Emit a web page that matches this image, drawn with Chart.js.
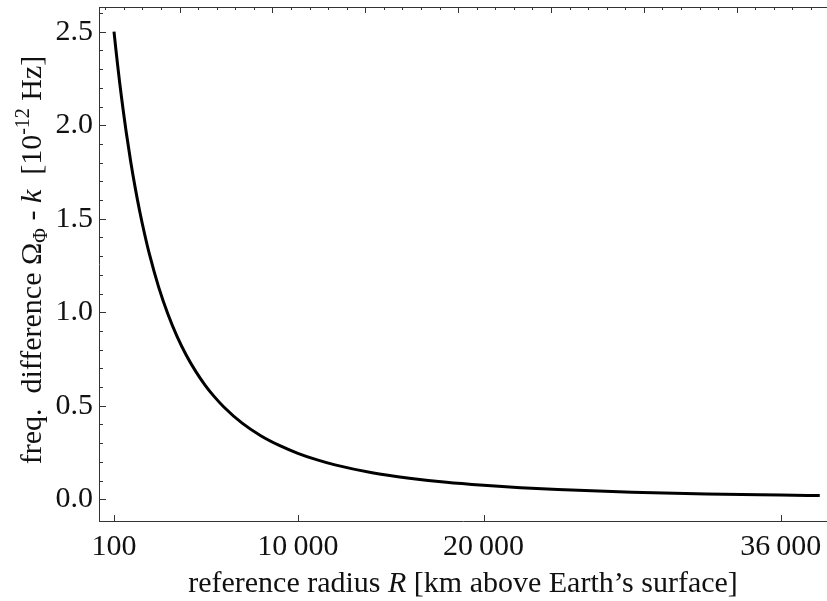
<!DOCTYPE html>
<html>
<head>
<meta charset="utf-8">
<script src="https://cdn.jsdelivr.net/npm/chart.js@4"></script>
<style>
  html, body { margin: 0; padding: 0; background: #fff; overflow: hidden; }
  #wrap { width: 827px; height: 601px; }
</style>
</head>
<body>
<div id="wrap"><canvas id="freqChart" width="827" height="601"></canvas></div>
<script>
// ===== DATA =====
// reference radius above Earth's surface (km)
const radiusKm = [100, 200, 300, 400, 500, 600, 750, 1000, 1250, 1500, 1750, 2000,
  2500, 3000, 3500, 4000, 4500, 5000, 5500, 6000, 7000, 8000, 9000, 10000,
  11000, 12000, 14000, 16000, 18000, 20000, 22000, 24000, 28000, 32000, 36000, 38100];
// frequency difference (10^-12 Hz)
const freqDiff = [2.500, 2.406, 2.317, 2.232, 2.152, 2.076, 1.968, 1.805, 1.661, 1.532, 1.417, 1.313,
  1.136, 0.991, 0.870, 0.769, 0.684, 0.611, 0.549, 0.495, 0.407, 0.340, 0.288, 0.246,
  0.212, 0.184, 0.142, 0.113, 0.091, 0.075, 0.062, 0.052, 0.038, 0.029, 0.023, 0.020];

const xTicks = [100, 10000, 20000, 36000];
const yTicks = [0.0, 0.5, 1.0, 1.5, 2.0, 2.5];
// top axis: distance from Earth's centre (km), offset by Earth radius
const earthRadius = 6371;
const topMajor = [10000, 15000, 20000, 25000, 30000, 35000, 40000];

// ===== STYLE =====
const FONT = '"Liberation Serif", "Times New Roman", serif';
const AXIS = '#333';

const fmtKm = v => {
  const s = String(v);
  return s.length > 3 ? s.slice(0, -3) + '\u2009' + s.slice(-3) : s;
};

// draws frame top line, inside ticks and the axis titles
const framePlugin = {
  id: 'frame',
  afterDraw(chart) {
    const { ctx, chartArea: a, scales: { x, y } } = chart;
    ctx.save();
    ctx.strokeStyle = AXIS;
    ctx.lineWidth = 1;
    ctx.beginPath();
    ctx.moveTo(a.left, a.top + 0.5);
    ctx.lineTo(a.right, a.top + 0.5);
    // left ticks
    for (let i = 0; i <= 26; i++) {
      const v = i / 10;
      const py = Math.round(y.getPixelForValue(v)) + 0.5;
      const len = (i % 5 === 0) ? 7 : 4;
      ctx.moveTo(a.left, py);
      ctx.lineTo(a.left + len, py);
    }
    // bottom ticks
    xTicks.forEach(v => {
      const px = Math.round(x.getPixelForValue(v)) + 0.5;
      ctx.moveTo(px, a.bottom);
      ctx.lineTo(px, a.bottom - 6);
    });
    // top ticks
    for (let c = 6000; c <= 45000; c += 1000) {
      const px = Math.round(x.getPixelForValue(c - earthRadius)) + 0.5;
      if (px < a.left || px > a.right) continue;
      const len = topMajor.includes(c) ? 6 : 3;
      ctx.moveTo(px, a.top);
      ctx.lineTo(px, a.top + len);
    }
    ctx.stroke();

    ctx.fillStyle = '#111';
    const size = 30;
    const drawRich = (segs, cx, by) => {
      let w = 0;
      segs.forEach(s => {
        ctx.font = (s.it ? 'italic ' : '') + (s.s || size) + 'px ' + FONT;
        s.w = ctx.measureText(s.t).width;
        w += s.w;
      });
      let px = cx - w / 2;
      ctx.textBaseline = 'alphabetic';
      ctx.textAlign = 'left';
      segs.forEach(s => {
        ctx.font = (s.it ? 'italic ' : '') + (s.s || size) + 'px ' + FONT;
        ctx.fillText(s.t, px, by + (s.dy || 0));
        px += s.w;
      });
    };
    // x title
    drawRich([
      { t: 'reference radius ' },
      { t: 'R', it: true },
      { t: ' [km above Earth\u2019s surface]' }
    ], (a.left + a.right) / 2, 592);
    // y title
    ctx.save();
    ctx.translate(41, (a.top + a.bottom) / 2 - 4);
    ctx.rotate(-Math.PI / 2);
    drawRich([
      { t: 'freq.  difference ' },
      { t: '\u03A9' },
      { t: '\u03A6', s: 20, dy: 6 },
      { t: ' - ' },
      { t: 'k', it: true },
      { t: '  [10' },
      { t: '-12', s: 20, dy: -12 },
      { t: ' Hz]' }
    ], 0, 0);
    ctx.restore();
    ctx.restore();
  }
};

new Chart(document.getElementById('freqChart'), {
  type: 'line',
  data: {
    datasets: [{
      data: radiusKm.map((r, i) => ({ x: r, y: freqDiff[i] })),
      borderColor: '#000',
      borderWidth: 3,
      pointRadius: 0,
      cubicInterpolationMode: 'monotone',
      fill: false
    }]
  },
  options: {
    responsive: false,
    animation: false,
    layout: { padding: { top: 7, right: 0, left: 0, bottom: 0 } },
    plugins: { legend: { display: false }, tooltip: { enabled: false } },
    scales: {
      x: {
        type: 'linear',
        min: -708,
        max: 38490,
        afterBuildTicks: s => { s.ticks = xTicks.map(v => ({ value: v })); },
        afterFit: s => { s.height = 80; s.paddingLeft = 0; s.paddingRight = 0; },
        grid: { display: false, drawTicks: false },
        border: { display: true, color: AXIS, width: 1 },
        ticks: {
          color: '#111',
          font: { family: FONT, size: 30 },
          padding: 8,
          maxRotation: 0,
          autoSkip: false,
          callback: v => fmtKm(v)
        }
      },
      y: {
        type: 'linear',
        min: -0.116,
        max: 2.632,
        afterBuildTicks: s => { s.ticks = yTicks.map(v => ({ value: v })); },
        afterFit: s => { s.width = 99; s.paddingTop = 0; s.paddingBottom = 0; },
        grid: { display: false, drawTicks: false },
        border: { display: true, color: AXIS, width: 1 },
        ticks: {
          color: '#111',
          font: { family: FONT, size: 30 },
          padding: 6,
          autoSkip: false,
          callback: v => v.toFixed(1)
        }
      }
    }
  },
  plugins: [framePlugin]
});
</script>
</body>
</html>
